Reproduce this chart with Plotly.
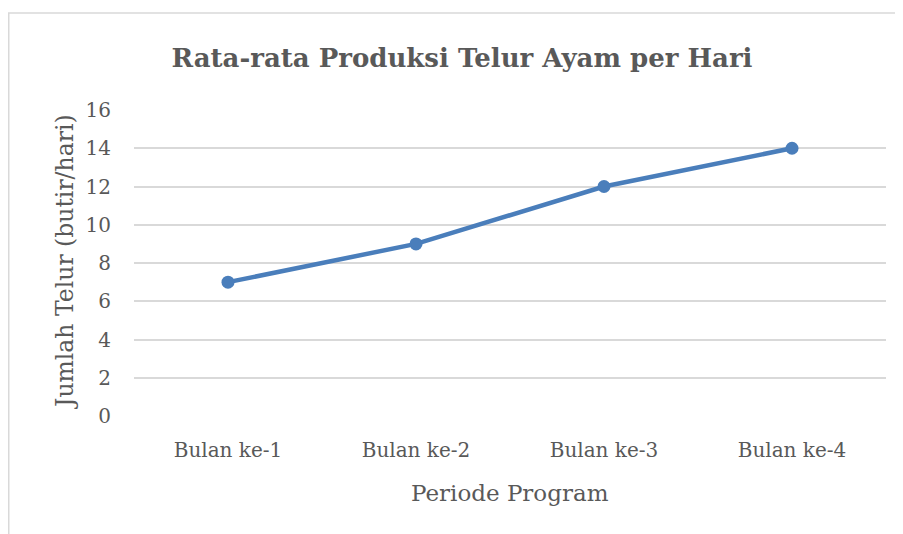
import plotly.graph_objects as go

categories = ["Bulan ke-1", "Bulan ke-2", "Bulan ke-3", "Bulan ke-4"]
values = [7, 9, 12, 14]
y_ticks = [0, 2, 4, 6, 8, 10, 12, 14, 16]

title_text = "Rata-rata Produksi Telur Ayam per Hari"
x_title = "Periode Program"
y_title = "Jumlah Telur (butir/hari)"

FONT = "DejaVu Serif, serif"
TXT = "#595959"

# page body has an 8px margin; the figure is sized to fill the rest
W, H = 895, 526
L, R, T, B = 126, 17, 102, 118

fig = go.Figure()
fig.add_trace(go.Scatter(
    x=categories, y=values, mode="lines+markers",
    line=dict(color="#4a7ebb", width=4.5),
    marker=dict(color="#4a7ebb", size=13),
    showlegend=False, hoverinfo="skip",
))

fig.update_layout(
    width=W, height=H,
    margin=dict(l=L, r=R, t=T, b=B, pad=0),
    paper_bgcolor="white", plot_bgcolor="white",
    font=dict(family=FONT, color=TXT, size=20),
    title=dict(text="<b>" + title_text + "</b>",
               x=454 / W, xanchor="center", y=1 - 50 / H, yanchor="middle",
               font=dict(family=FONT, size=26, color=TXT)),
    xaxis=dict(type="category", range=[-0.5, 3.5], showgrid=False,
               showline=False, zeroline=False, ticks="",
               ticklabelstandoff=20,
               tickfont=dict(family=FONT, size=20, color=TXT)),
    yaxis=dict(range=[0, 16], tickvals=y_ticks, showgrid=True,
               gridcolor="#d9d9d9", gridwidth=1.5, zeroline=False,
               showline=False, ticks="", ticklabelstandoff=22,
               tickfont=dict(family=FONT, size=20, color=TXT)),
    annotations=[
        dict(text=x_title, xref="paper", yref="paper",
             x=(502 - L) / (W - L - R), y=-(485 - (H - B)) / (H - T - B),
             xanchor="center", yanchor="middle", showarrow=False,
             font=dict(family=FONT, size=23, color=TXT)),
        dict(text=y_title, xref="paper", yref="paper", textangle=-90,
             x=(57 - L) / (W - L - R), y=((H - B) - 254) / (H - T - B),
             xanchor="center", yanchor="middle", showarrow=False,
             font=dict(family=FONT, size=23.5, color=TXT)),
    ],
    shapes=[dict(type="rect", xref="paper", yref="paper",
                 x0=(0.75 - L) / (W - L - R), x1=1.1,
                 y0=-0.6, y1=((H - B) - 5) / (H - T - B),
                 line=dict(color="#d9d9d9", width=1.5), fillcolor="rgba(0,0,0,0)",
                 layer="below")],
)

fig.write_html("out.html")
